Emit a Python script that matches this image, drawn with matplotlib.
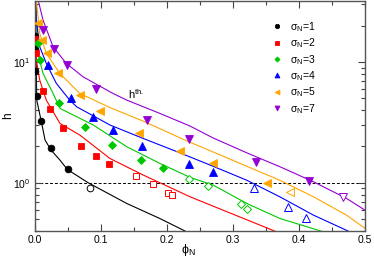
import numpy as np
import matplotlib
matplotlib.use('Agg')
import matplotlib.pyplot as plt
from matplotlib.ticker import LogLocator, NullFormatter, FixedLocator, FixedFormatter

plt.rcParams['font.family'] = ['Liberation Sans', 'DejaVu Sans']
plt.rcParams['mathtext.fontset'] = 'custom'
plt.rcParams['mathtext.rm'] = 'Liberation Sans'
plt.rcParams['mathtext.it'] = 'Liberation Sans:italic'
plt.rcParams['mathtext.bf'] = 'Liberation Sans:bold'

sigmas = [1, 2, 3, 4, 5, 7]
colors = ['black', '#ff0000', '#00c800', '#0000ff', '#ffa500', '#9400d3']
markers = ['o', 's', 'D', '^', '<', 'v']

# simulation points (filled: h > 1 regime, open: h < 1 regime)
phi_filled = {
    1: [0.0, 0.0, 0.0, 0.0026, 0.0086, 0.0238, 0.0495],
    2: [0.0, 0.0015, 0.0126, 0.0227, 0.0429, 0.0697, 0.0924, 0.112],
    3: [0.005, 0.0076, 0.0371, 0.0758, 0.117, 0.1606, 0.194],
    4: [0.0192, 0.0538, 0.0883, 0.1186, 0.1617, 0.2338, 0.269],
    5: [0.005, 0.0102, 0.0177, 0.0353, 0.0682, 0.0985, 0.158, 0.2197, 0.269, 0.3515],
    7: [0.0126, 0.0288, 0.048, 0.0924, 0.169, 0.234, 0.335, 0.4156],
}
h_filled = {
    1: [16.5, 12.8, 8.47, 5.26, 3.24, 1.95, 1.29],
    2: [15.4, 11.8, 5.78, 4.05, 2.82, 2.01, 1.66, 1.44],
    3: [14.3, 10.3, 4.6, 2.88, 2.05, 1.56, 1.32],
    4: [9.44, 5.06, 3.50, 2.73, 2.01, 1.42, 1.23],
    5: [21.2, 15.2, 11.9, 8.15, 5.33, 3.93, 2.58, 1.82, 1.46, 1.0],
    7: [18.4, 12.7, 9.44, 5.94, 3.31, 2.29, 1.50, 1.04],
}
phi_open = {
    1: [0.0833],
    2: [0.1526, 0.179, 0.202, 0.2076],
    3: [0.234, 0.262, 0.312, 0.321],
    4: [0.332, 0.383, 0.41],
    5: [0.386],
    7: [0.467],
}
h_open = {
    1: [0.90],
    2: [1.13, 0.97, 0.83, 0.79],
    3: [1.07, 0.94, 0.67, 0.605],
    4: [0.91, 0.63, 0.51],
    5: [0.84],
    7: [0.77],
}

# theoretical curves h^th
phi_th = {
    1: [0.0008, 0.0018, 0.0026, 0.0102, 0.0152, 0.0242, 0.0379, 0.049, 0.0808, 0.139, 0.189, 0.227],
    2: [0.0005, 0.002, 0.0071, 0.0171, 0.0379, 0.0682, 0.1136, 0.164, 0.2045, 0.235, 0.366],
    3: [0.0008, 0.0045, 0.0121, 0.0273, 0.0379, 0.0883, 0.139, 0.189, 0.235, 0.270, 0.321, 0.371, 0.437],
    4: [0.001, 0.002, 0.0071, 0.0171, 0.0323, 0.0526, 0.0632, 0.1136, 0.164, 0.2197, 0.270, 0.321,
        0.371, 0.422, 0.477],
    5: [0.002, 0.0071, 0.0171, 0.0374, 0.0677, 0.1136, 0.164, 0.227, 0.270, 0.321, 0.371, 0.422,
        0.472, 0.5],
    7: [0.0045, 0.0121, 0.0273, 0.0474, 0.0727, 0.118, 0.139, 0.189, 0.235, 0.270, 0.321, 0.371,
        0.422, 0.472, 0.5],
}
h_th = {
    1: [33, 10.4, 4.84, 3.1, 2.26, 1.87, 1.54, 1.29, 1.0, 0.675, 0.507, 0.40],
    2: [33, 10.4, 7.1, 4.84, 3.1, 2.48, 1.59, 1.16, 0.916, 0.766, 0.393],
    3: [33, 11.8, 8.06, 5.5, 4.13, 3.01, 1.99, 1.45, 1.11, 0.957, 0.675, 0.507, 0.393],
    4: [33, 22.3, 13.4, 9.75, 6.66, 4.84, 4.26, 3.01, 2.33, 1.77, 1.37, 1.05, 0.766, 0.54, 0.393],
    5: [33, 17.3, 11.8, 8.06, 5.5, 4.2, 3.24, 2.26, 1.80, 1.37, 1.05, 0.766, 0.54, 0.42],
    7: [33, 22.3, 13.4, 9.75, 7.55, 5.5, 4.84, 3.76, 2.95, 2.35, 1.77, 1.36, 1.02, 0.743, 0.594],
}

fig = plt.figure(figsize=(3.74, 2.63), dpi=100)
ax = fig.add_axes([0.0936, 0.122, 0.8824, 0.876])

ax.axhline(1.0, color='black', lw=0.7, ls=(0, (3, 2)), zorder=1)

for s, c, m in zip(sigmas, colors, markers):
    ms = 4.8 if m != 'D' else 4.0
    if m in ('^', '<', 'v'):
        ms = 5.4
    ax.plot(phi_th[s], h_th[s], '-', color=c, lw=0.8, zorder=2)
    ax.plot(phi_filled[s], h_filled[s], m, color=c, ms=ms, mec=c, mew=0.6, ls='none', zorder=3,
            label=r'$\mathrm{\sigma_N}$=%d' % s)
    ax.plot(phi_open[s], h_open[s], m, color=c, ms=ms, mfc='white', mec=c, mew=0.7, ls='none',
            zorder=3)

ax.text(0.141, 4.9, r'h$^{\mathrm{th.}}$', fontsize=8, va='baseline', ha='left')

ax.set_yscale('log')
ax.set_xlim(0, 0.5)
ax.set_ylim(0.4, 32.3)

ax.xaxis.set_major_locator(FixedLocator([0.0, 0.1, 0.2, 0.3, 0.4, 0.5]))
ax.xaxis.set_major_formatter(FixedFormatter(['0.0', '0.1', '0.2', '0.3', '0.4', '0.5']))
ax.xaxis.set_minor_locator(FixedLocator([0.05, 0.15, 0.25, 0.35, 0.45]))
ax.yaxis.set_major_locator(FixedLocator([1, 10]))
ax.yaxis.set_major_formatter(FixedFormatter([r'$10^{0}$', r'$10^{1}$']))
ax.yaxis.set_minor_locator(LogLocator(base=10, subs=np.arange(2, 10)))
ax.yaxis.set_minor_formatter(NullFormatter())

ax.tick_params(which='both', direction='in', top=True, right=True, labelsize=7.5, colors='#444444',
               labelcolor='black', width=0.8)
ax.tick_params(which='major', length=5, pad=3)
ax.tick_params(which='minor', length=3)
for sp in ax.spines.values():
    sp.set_color('#555555')
    sp.set_linewidth(1.0)

ax.set_xlabel(r'$\mathrm{\phi_N}$', fontsize=9, va='center')
ax.xaxis.set_label_coords(0.465, -0.085)
ax.set_ylabel('h', fontsize=8.5, va='center')
ax.yaxis.set_label_coords(-0.08, 0.5)

leg = ax.legend(loc='upper left', bbox_to_anchor=(0.692, 0.952), frameon=False, fontsize=7.5,
                numpoints=1, handlelength=1.0, handletextpad=0.8, labelspacing=0.25,
                markerscale=0.65, borderpad=0.3)

fig.savefig('out.png', dpi=100)
